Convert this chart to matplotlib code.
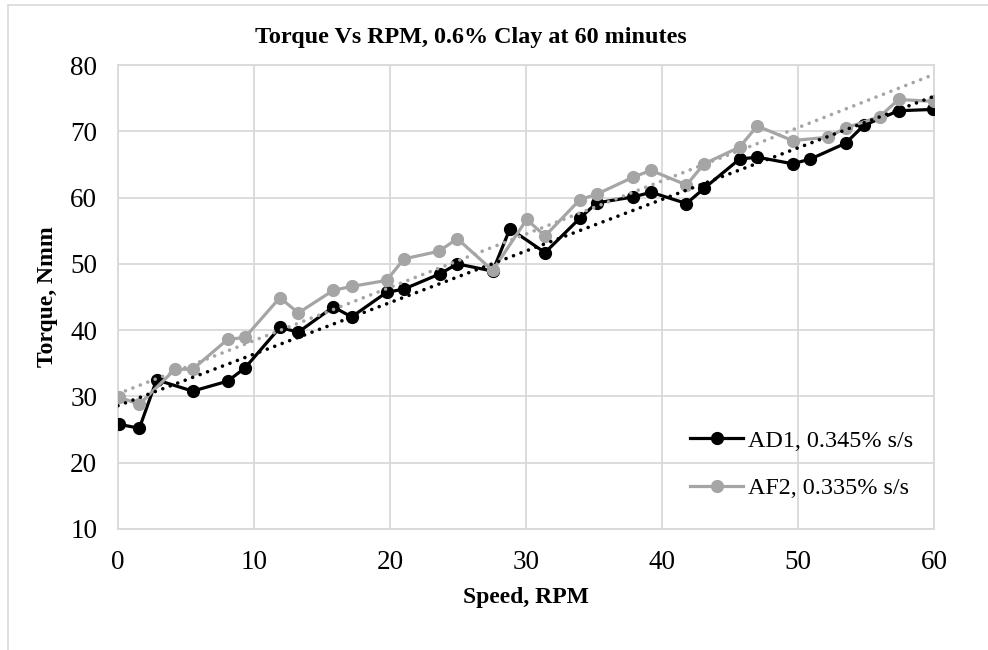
import matplotlib.pyplot as plt
import numpy as np
from matplotlib.patches import Rectangle

plt.rcParams['font.family'] = ['Liberation Serif', 'DejaVu Serif']

# AD1 series
ad1_rpm = [0.07, 1.57, 2.84, 5.49, 8.06, 9.34, 11.9, 13.26, 15.83, 17.18, 19.75, 21.03,
           23.68, 24.95, 27.55, 28.82, 31.4, 33.97, 35.2, 37.9, 39.2, 41.8, 43.1, 45.7,
           47.0, 49.6, 50.9, 53.5, 54.85, 57.4, 59.95]
ad1_torque = [25.8, 25.2, 32.5, 30.8, 32.3, 34.3, 40.4, 39.7, 43.5, 42.0, 45.7, 46.2,
              48.5, 50.0, 48.9, 55.3, 51.7, 56.9, 59.2, 60.1, 60.8, 59.1, 61.4, 65.8,
              66.1, 65.1, 65.8, 68.2, 70.9, 73.1, 73.3]

# AF2 series
af2_rpm = [0.07, 1.57, 4.19, 5.49, 8.06, 9.34, 11.9, 13.26, 15.83, 17.18, 19.75, 21.03,
           23.6, 24.95, 27.55, 30.05, 31.4, 33.97, 35.2, 37.9, 39.2, 41.8, 43.1, 45.7,
           47.0, 49.6, 52.2, 53.5, 56.0, 57.4, 60.0]
af2_torque = [29.9, 28.8, 34.1, 34.1, 38.6, 38.9, 44.9, 42.6, 46.0, 46.6, 47.5, 50.75,
              51.9, 53.8, 49.0, 56.7, 54.2, 59.7, 60.5, 63.1, 64.1, 61.9, 65.1, 67.6,
              70.8, 68.6, 69.1, 70.5, 72.2, 74.8, 74.5]

# linear trendlines: (slope, intercept)
ad1_trend = (0.778, 28.6)
af2_trend = (0.803, 30.4)

labels = ['AD1, 0.345% s/s', 'AF2, 0.335% s/s']
colors = ['#000000', '#A5A5A5']

fig = plt.figure(figsize=(9.88, 6.5), dpi=100)
fig.patches.append(Rectangle((8/988, -0.1), 1.2, 1 - 5/650 + 0.1, transform=fig.transFigure,
                             fill=False, edgecolor='#D9D9D9', linewidth=1.2))
ax = fig.add_axes([118/988, 1 - 529/650, (934 - 118)/988, (529 - 65)/650])

series = [(ad1_rpm, ad1_torque), (af2_rpm, af2_torque)]
for (x, y), lab, c in zip(series, labels, colors):
    ax.plot(x, y, color=c, lw=2.3, marker='o', ms=8.5, label=lab, zorder=3)

xs = np.array([0, 60])
for (k, b), c in zip([ad1_trend, af2_trend], colors):
    ax.plot(xs, k * xs + b, color=c, lw=2.6, linestyle=(0, (0.01, 2.2)),
            dash_capstyle='round', zorder=4)

ax.set_xlim(0, 60)
ax.set_ylim(10, 80)
ax.set_xticks(range(0, 61, 10))
ax.set_yticks(range(10, 81, 10))
ax.grid(True, color='#D9D9D9', lw=1.3)
ax.set_axisbelow(True)
for s in ax.spines.values():
    s.set_color('#D9D9D9')
    s.set_linewidth(1.3)
ax.tick_params(length=0, labelsize=19.5, pad=15)

ax.set_xlabel('Speed, RPM', fontsize=17, fontweight='bold', labelpad=9)
ax.set_ylabel('Torque, Nmm', fontsize=17, fontweight='bold', labelpad=9)
fig.text(471/988, 1 - 38/650, 'Torque Vs RPM, 0.6% Clay at 60 minutes', ha='center', va='center',
         fontsize=17.4, fontweight='bold')

ax.legend(loc='center left', bbox_to_anchor=(0.701, 0.139), frameon=False, fontsize=17.4,
          handlelength=2.2, labelspacing=1.05, handletextpad=0.2, borderpad=0, borderaxespad=0)

fig.savefig('out.png', dpi=100)
